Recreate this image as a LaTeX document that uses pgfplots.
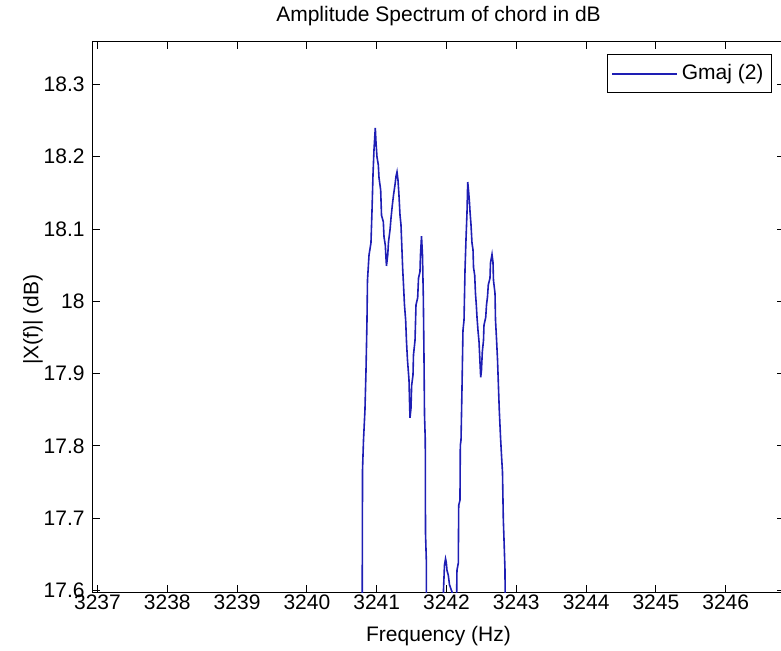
\documentclass[border=0pt]{standalone}
\usepackage{fontspec}
\setmainfont{Liberation Sans}
\usepackage{pgfplots}
\pgfplotsset{compat=1.18}

\definecolor{mblue}{RGB}{30,30,180}

\begin{document}
\begin{tikzpicture}
\begin{axis}[
    at={(46.5pt,29pt)}, anchor=south west,
    scale only axis,
    width=345.5pt, height=275pt,
    xmin=3236.936, xmax=3246.835,
    ymin=17.598, ymax=18.3587,
    xtick={3237,3238,...,3246},
    ytick={17.6,17.7,...,18.3},
    scaled x ticks=false,
    /pgf/number format/1000 sep={},
    /pgf/number format/assume math mode=true,
    tick align=inside,
    tick pos=both,
    major tick length=3.5pt,
    axis line style={black, line width=0.5pt},
    every tick/.style={black, line width=0.5pt},
    font=\fontsize{10.5pt}{12pt}\selectfont,
    xticklabel style={inner sep=0pt, anchor=north, yshift=-1pt},
    yticklabel style={inner sep=0pt, anchor=east, xshift=-4pt},
    title={Amplitude Spectrum of chord in dB},
    every axis title shift=0pt,
    title style={at={(axis description cs:0.5,1)}, anchor=center, yshift=13pt},
    xlabel={Frequency (Hz)},
    xlabel style={at={(axis description cs:0.5,0)}, anchor=center, yshift=-22pt},
    ylabel={|X(f)| (dB)},
    ylabel style={at={(axis description cs:-0.0868,0.495)}, anchor=center, rotate=0},
    legend style={at={(axis description cs:0.9826,0.978)}, anchor=north east,
        draw=black, line width=0.5pt, inner xsep=2pt, inner ysep=3pt,
        font=\fontsize{10.5pt}{12pt}\selectfont},
    legend image code/.code={\draw[#1] (0pt,0pt) -- (32.5pt,0pt);},
]
\addplot[mblue, line width=0.8pt] coordinates {
(3240.789,17.5) (3240.794,17.642) (3240.797,17.767) (3240.811,17.808)
(3240.832,17.850) (3240.847,17.905) (3240.861,17.974) (3240.868,18.029)
(3240.890,18.064) (3240.918,18.081) (3240.933,18.126) (3240.947,18.175)
(3240.961,18.209) (3240.980,18.240)
(3240.990,18.220) (3241.004,18.200) (3241.023,18.189) (3241.033,18.171)
(3241.057,18.154) (3241.069,18.119) (3241.095,18.110) (3241.105,18.089)
(3241.123,18.078) (3241.133,18.060) (3241.140,18.049)
(3241.158,18.064) (3241.169,18.082) (3241.191,18.099) (3241.205,18.115)
(3241.224,18.133) (3241.241,18.147) (3241.262,18.161) (3241.277,18.173)
(3241.291,18.179)
(3241.305,18.168) (3241.319,18.147) (3241.334,18.119) (3241.348,18.106)
(3241.362,18.071) (3241.372,18.046) (3241.384,18.023) (3241.398,17.995)
(3241.415,17.974) (3241.427,17.944) (3241.441,17.919) (3241.463,17.891)
(3241.470,17.863) (3241.477,17.839)
(3241.491,17.852) (3241.501,17.884) (3241.520,17.898) (3241.527,17.926)
(3241.549,17.946) (3241.563,17.995) (3241.587,18.005) (3241.599,18.032)
(3241.620,18.041) (3241.627,18.064) (3241.642,18.090)
(3241.656,18.064) (3241.668,18.006) (3241.678,17.919) (3241.685,17.843)
(3241.696,17.808) (3241.699,17.680) (3241.711,17.642) (3241.716,17.5)
(3241.950,17.5) (3241.957,17.601) (3241.971,17.635) (3241.986,17.644)
(3241.997,17.639) (3242.007,17.628) (3242.026,17.621) (3242.043,17.608)
(3242.079,17.598) (3242.107,17.5)
(3242.136,17.5) (3242.146,17.598) (3242.150,17.628) (3242.169,17.638)
(3242.175,17.718) (3242.193,17.725) (3242.198,17.801) (3242.208,17.808)
(3242.222,17.880) (3242.236,17.960) (3242.251,17.974) (3242.265,18.043)
(3242.279,18.085) (3242.294,18.124) (3242.304,18.165)
(3242.315,18.154) (3242.327,18.140) (3242.337,18.124) (3242.351,18.106)
(3242.365,18.081) (3242.380,18.071) (3242.387,18.047) (3242.404,18.036)
(3242.415,18.011) (3242.427,17.995) (3242.437,17.978) (3242.451,17.960)
(3242.466,17.944) (3242.480,17.915) (3242.490,17.895)
(3242.501,17.905) (3242.513,17.930) (3242.530,17.946) (3242.537,17.967)
(3242.562,17.978) (3242.573,17.995) (3242.587,18.006) (3242.599,18.023)
(3242.623,18.032) (3242.630,18.053) (3242.652,18.065)
(3242.666,18.054) (3242.673,18.029) (3242.695,18.011) (3242.702,17.974)
(3242.716,17.949) (3242.731,17.919) (3242.745,17.880) (3242.756,17.850)
(3242.774,17.812) (3242.788,17.787) (3242.802,17.764) (3242.814,17.698)
(3242.824,17.670) (3242.838,17.628) (3242.845,17.5)
};
\addlegendentry{Gmaj (2)}
\end{axis}
\pgfresetboundingbox
\path[use as bounding box] (0,0) rectangle (390.5pt,325pt);
\end{tikzpicture}
\end{document}
